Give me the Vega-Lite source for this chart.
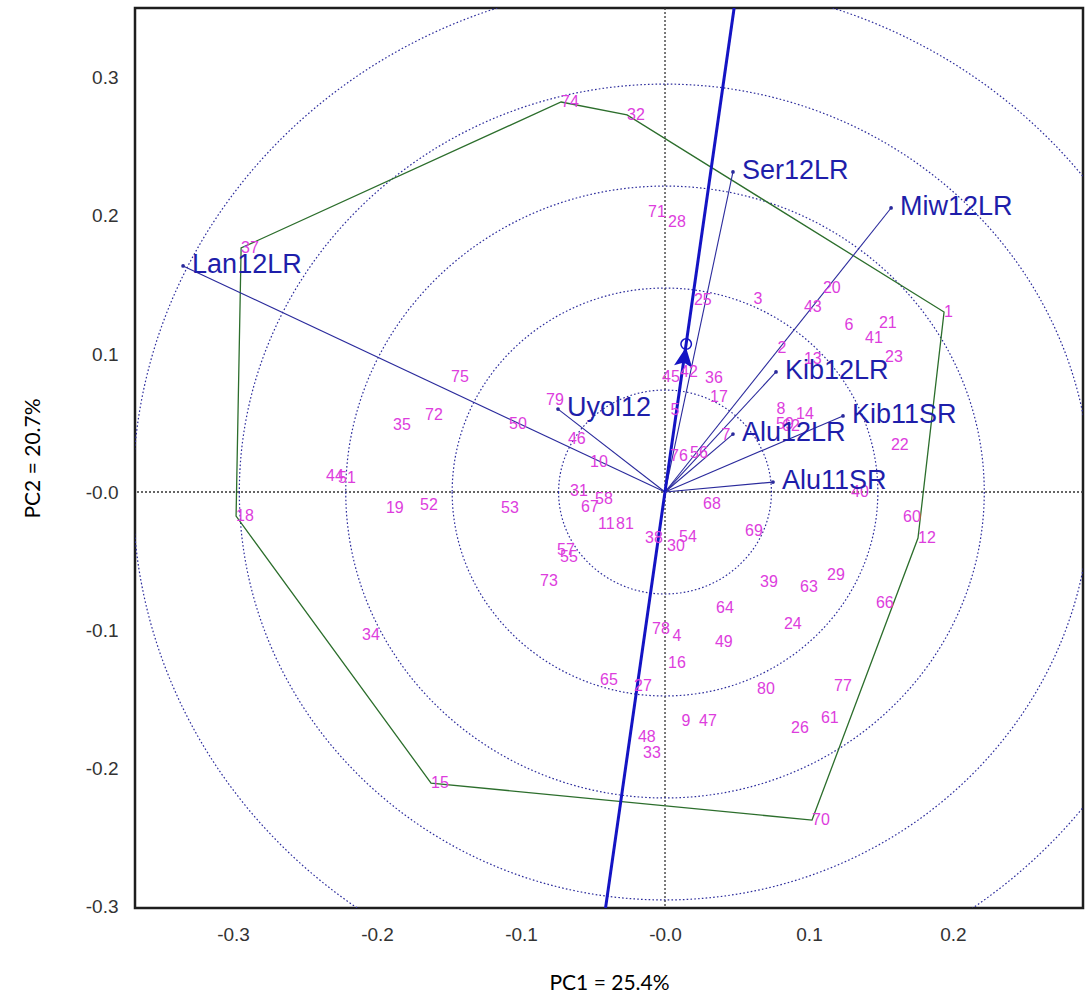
{
  "$schema": "https://vega.github.io/schema/vega-lite/v6.json",
  "width": 948,
  "height": 900,
  "autosize": {"type": "none"},
  "padding": {"left": 135, "top": 8, "right": 4, "bottom": 91},
  "background": "white",
  "config": {
    "view": {"stroke": "#1e1e1e", "strokeWidth": 2.5},
    "axis": {"grid": false, "domain": false, "ticks": false, "labelFont": "Liberation Sans", "labelFontSize": 19, "labelColor": "#333333", "titleFont": "Lato", "titleFontSize": 21, "titleFontWeight": "normal", "titleColor": "#000000"}
  },
  "datasets": {
    "rings": [{"r": 0.0739}, {"r": 0.1478}, {"r": 0.2217}, {"r": 0.2956}, {"r": 0.3695}],
    "origin": [{"v": 0}],
    "aec": [{"x": -0.0413, "y": -0.3014, "x2": 0.048, "y2": 0.3507}],
    "arrow": [{"x": 0.0134, "y": 0.0964}],
    "atc": [{"x": 0.0147, "y": 0.1072}],
    "envs": [
      {"env": "Lan12LR", "x": -0.3347, "y": 0.1638},
      {"env": "Ser12LR", "x": 0.0472, "y": 0.2319},
      {"env": "Miw12LR", "x": 0.157, "y": 0.2058},
      {"env": "Kib12LR", "x": 0.0771, "y": 0.087},
      {"env": "Kib11SR", "x": 0.1236, "y": 0.0551},
      {"env": "Alu12LR", "x": 0.0472, "y": 0.042},
      {"env": "Alu11SR", "x": 0.075, "y": 0.0072},
      {"env": "Uyol12", "x": -0.0743, "y": 0.0601}
    ],
    "genotypes": [
      {"g": "1", "x": 0.1938, "y": 0.1304, "hull": 3},
      {"g": "2", "x": 0.0781, "y": 0.1043},
      {"g": "3", "x": 0.0615, "y": 0.1399},
      {"g": "4", "x": 0.0052, "y": -0.1043},
      {"g": "5", "x": 0.0038, "y": 0.0594},
      {"g": "6", "x": 0.1247, "y": 0.121},
      {"g": "7", "x": 0.0392, "y": 0.0413},
      {"g": "8", "x": 0.0774, "y": 0.0601},
      {"g": "9", "x": 0.0115, "y": -0.1659},
      {"g": "10", "x": -0.0521, "y": 0.0217},
      {"g": "11", "x": -0.0465, "y": -0.0232},
      {"g": "12", "x": 0.1757, "y": -0.0333, "hull": 4},
      {"g": "13", "x": 0.0965, "y": 0.0964},
      {"g": "14", "x": 0.091, "y": 0.0565},
      {"g": "15", "x": -0.1625, "y": -0.2109, "hull": 6},
      {"g": "16", "x": 0.0021, "y": -0.1239},
      {"g": "17", "x": 0.0313, "y": 0.0688},
      {"g": "18", "x": -0.2979, "y": -0.0174, "hull": 7},
      {"g": "19", "x": -0.1938, "y": -0.0116},
      {"g": "20", "x": 0.1097, "y": 0.1478},
      {"g": "21", "x": 0.1486, "y": 0.1225},
      {"g": "22", "x": 0.1569, "y": 0.0341},
      {"g": "23", "x": 0.1528, "y": 0.0978},
      {"g": "24", "x": 0.0826, "y": -0.0957},
      {"g": "25", "x": 0.0201, "y": 0.1391},
      {"g": "26", "x": 0.0875, "y": -0.171},
      {"g": "27", "x": -0.0215, "y": -0.1406},
      {"g": "28", "x": 0.0021, "y": 0.1957},
      {"g": "29", "x": 0.1125, "y": -0.0601},
      {"g": "30", "x": 0.0014, "y": -0.0391},
      {"g": "31", "x": -0.066, "y": 0.0007},
      {"g": "32", "x": -0.0264, "y": 0.2732, "hull": 2},
      {"g": "33", "x": -0.0153, "y": -0.1891},
      {"g": "34", "x": -0.2104, "y": -0.1036},
      {"g": "35", "x": -0.1889, "y": 0.0486},
      {"g": "36", "x": 0.0278, "y": 0.0826},
      {"g": "37", "x": -0.2944, "y": 0.1768, "hull": 8},
      {"g": "38", "x": -0.0139, "y": -0.0333},
      {"g": "39", "x": 0.066, "y": -0.0652},
      {"g": "40", "x": 0.1292, "y": 0.0},
      {"g": "41", "x": 0.1389, "y": 0.1116},
      {"g": "42", "x": 0.0104, "y": 0.087},
      {"g": "43", "x": 0.0965, "y": 0.1341},
      {"g": "44", "x": -0.2354, "y": 0.0116},
      {"g": "45", "x": -0.0021, "y": 0.0833},
      {"g": "46", "x": -0.0674, "y": 0.0384},
      {"g": "47", "x": 0.0236, "y": -0.1659},
      {"g": "48", "x": -0.0188, "y": -0.1775},
      {"g": "49", "x": 0.0347, "y": -0.1087},
      {"g": "50", "x": -0.1083, "y": 0.0493},
      {"g": "51", "x": -0.2271, "y": 0.0101},
      {"g": "52", "x": -0.1701, "y": -0.0094},
      {"g": "53", "x": -0.1139, "y": -0.0116},
      {"g": "54", "x": 0.0097, "y": -0.0326},
      {"g": "55", "x": -0.0729, "y": -0.0471},
      {"g": "56", "x": 0.0174, "y": 0.0283},
      {"g": "57", "x": -0.075, "y": -0.042},
      {"g": "58", "x": -0.0486, "y": -0.0051},
      {"g": "59", "x": 0.0771, "y": 0.0493},
      {"g": "60", "x": 0.1653, "y": -0.0181},
      {"g": "61", "x": 0.1083, "y": -0.1638},
      {"g": "62", "x": 0.0813, "y": 0.0478},
      {"g": "63", "x": 0.0938, "y": -0.0688},
      {"g": "64", "x": 0.0354, "y": -0.0841},
      {"g": "65", "x": -0.0451, "y": -0.1362},
      {"g": "66", "x": 0.1465, "y": -0.0804},
      {"g": "67", "x": -0.0583, "y": -0.0109},
      {"g": "68", "x": 0.0264, "y": -0.0087},
      {"g": "69", "x": 0.0556, "y": -0.0283},
      {"g": "70", "x": 0.1021, "y": -0.2377, "hull": 5},
      {"g": "71", "x": -0.0118, "y": 0.2029},
      {"g": "72", "x": -0.1667, "y": 0.0558},
      {"g": "73", "x": -0.0868, "y": -0.0645},
      {"g": "74", "x": -0.0722, "y": 0.2826, "hull": 1},
      {"g": "75", "x": -0.1486, "y": 0.0833},
      {"g": "76", "x": 0.0035, "y": 0.0261},
      {"g": "77", "x": 0.1174, "y": -0.1406},
      {"g": "78", "x": -0.009, "y": -0.0993},
      {"g": "79", "x": -0.0826, "y": 0.0667},
      {"g": "80", "x": 0.0639, "y": -0.1428},
      {"g": "81", "x": -0.034, "y": -0.0232}
    ]
  },
  "layer": [
    {
      "data": {"name": "origin"},
      "mark": {"type": "rule", "color": "#333333", "strokeDash": [2, 2], "strokeWidth": 1.3},
      "encoding": {
        "x": {
          "field": "v", "type": "quantitative",
          "scale": {"domain": [-0.3681, 0.2903], "nice": false, "zero": false},
          "axis": {"values": [-0.3, -0.2, -0.1, 0, 0.1, 0.2], "labelPadding": 17, "titlePadding": 28,
                   "labelExpr": "datum.value < -0.0001 ? '-' + format(-datum.value, '.1f') : (datum.value < 0.0001 ? '-0.0' : format(datum.value, '.1f'))"},
          "title": "PC1 = 25.4%"
        }
      }
    },
    {
      "data": {"name": "origin"},
      "mark": {"type": "rule", "color": "#333333", "strokeDash": [2, 2], "strokeWidth": 1.3},
      "encoding": {
        "y": {
          "field": "v", "type": "quantitative",
          "scale": {"domain": [-0.3014, 0.3507], "nice": false, "zero": false},
          "axis": {"values": [-0.3, -0.2, -0.1, 0, 0.1, 0.2, 0.3], "labelPadding": 17, "titlePadding": 42,
                   "labelExpr": "datum.value < -0.0001 ? '-' + format(-datum.value, '.1f') : (datum.value < 0.0001 ? '-0.0' : format(datum.value, '.1f'))"},
          "title": "PC2 = 20.7%"
        }
      }
    },
    {
      "data": {"name": "rings"},
      "mark": {"type": "point", "shape": "M -1.0435 0 A 1.0435 1 0 1 0 1.0435 0 A 1.0435 1 0 1 0 -1.0435 0 Z", "filled": false, "stroke": "#2c2c9c", "strokeWidth": 1.2, "strokeDash": [1.6, 2.2], "opacity": 1, "clip": true},
      "encoding": {
        "x": {"datum": 0, "type": "quantitative"},
        "y": {"datum": 0, "type": "quantitative"},
        "size": {"field": "r", "type": "quantitative", "scale": {"type": "pow", "exponent": 2, "domain": [0, 1], "range": [0, 7617600]}, "legend": null}
      }
    },
    {
      "data": {"name": "genotypes"},
      "transform": [{"filter": "isValid(datum.hull)"}],
      "mark": {"type": "line", "interpolate": "linear-closed", "color": "#2c6e2c", "strokeWidth": 1.3},
      "encoding": {
        "x": {"field": "x", "type": "quantitative"},
        "y": {"field": "y", "type": "quantitative"},
        "order": {"field": "hull", "type": "quantitative"}
      }
    },
    {
      "data": {"name": "envs"},
      "mark": {"type": "rule", "color": "#2a2a9c", "strokeWidth": 1.1},
      "encoding": {
        "x": {"field": "x", "type": "quantitative"},
        "y": {"field": "y", "type": "quantitative"},
        "x2": {"datum": 0},
        "y2": {"datum": 0}
      }
    },
    {
      "data": {"name": "aec"},
      "mark": {"type": "rule", "color": "#1414c4", "strokeWidth": 3, "clip": true},
      "encoding": {
        "x": {"field": "x", "type": "quantitative"},
        "y": {"field": "y", "type": "quantitative"},
        "x2": {"field": "x2"},
        "y2": {"field": "y2"}
      }
    },
    {
      "data": {"name": "arrow"},
      "mark": {"type": "point", "shape": "M 0 -1 L 0.78 0.65 L 0 0.3 L -0.78 0.65 Z", "filled": true, "color": "#1414c4", "size": 560, "angle": 8.1, "opacity": 1},
      "encoding": {
        "x": {"field": "x", "type": "quantitative"},
        "y": {"field": "y", "type": "quantitative"}
      }
    },
    {
      "data": {"name": "atc"},
      "mark": {"type": "point", "shape": "circle", "filled": false, "color": "#1414c4", "size": 110, "strokeWidth": 1.5, "opacity": 1},
      "encoding": {
        "x": {"field": "x", "type": "quantitative"},
        "y": {"field": "y", "type": "quantitative"}
      }
    },
    {
      "data": {"name": "envs"},
      "mark": {"type": "point", "shape": "circle", "filled": true, "color": "#2a2a9c", "size": 14, "opacity": 1},
      "encoding": {
        "x": {"field": "x", "type": "quantitative"},
        "y": {"field": "y", "type": "quantitative"}
      }
    },
    {
      "data": {"name": "genotypes"},
      "mark": {"type": "text", "align": "left", "baseline": "middle", "font": "Liberation Sans", "fontSize": 16, "color": "#dd3ddd"},
      "encoding": {
        "x": {"field": "x", "type": "quantitative"},
        "y": {"field": "y", "type": "quantitative"},
        "text": {"field": "g"}
      }
    },
    {
      "data": {"name": "envs"},
      "mark": {"type": "text", "align": "left", "baseline": "middle", "dx": 9, "dy": -1, "font": "Liberation Sans", "fontSize": 27, "color": "#1e1eaa"},
      "encoding": {
        "x": {"field": "x", "type": "quantitative"},
        "y": {"field": "y", "type": "quantitative"},
        "text": {"field": "env"}
      }
    }
  ]
}
